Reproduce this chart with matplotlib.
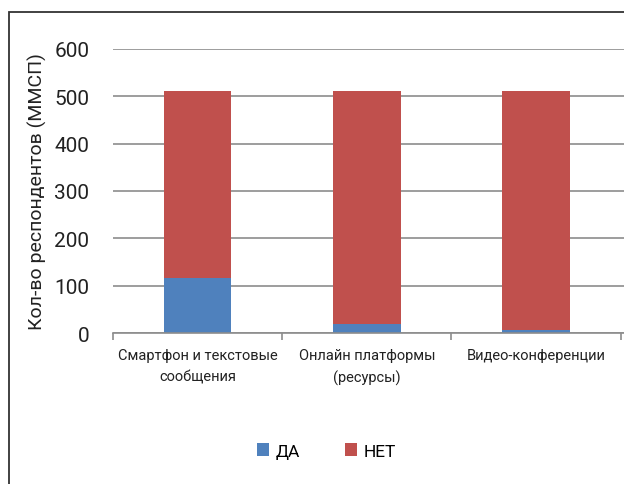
import matplotlib.pyplot as plt
import numpy as np
from matplotlib.patches import Rectangle

categories = ['Смартфон и текстовые\nсообщения', 'Онлайн платформы\n(ресурсы)', 'Видео-конференции']
yes_values = [116, 20, 6]
no_values = [396, 492, 506]
series_names = ['ДА', 'НЕТ']
colors = ['#4F81BD', '#C0504D']
y_label = 'Кол-во респондентов (ММСП)'

plt.rcParams['font.family'] = ['Roboto', 'DejaVu Sans']

fig = plt.figure(figsize=(6.24, 4.85), dpi=100)
W, H = 624, 485
ax = fig.add_axes([113 / W, 1 - 334 / H, (624 - 113) / W, (334 - 50) / H])

x = np.arange(len(categories))
ax.bar(x, yes_values, width=0.4, color=colors[0], label=series_names[0])
ax.bar(x, no_values, width=0.4, bottom=yes_values, color=colors[1], label=series_names[1])

ax.set_xlim(-0.5, len(categories) - 0.5 + 0.02)
ax.set_ylim(0, 600)
ax.set_yticks(range(0, 601, 100))
ax.yaxis.grid(True, color='#8C8C8C', linewidth=1.2)
ax.set_axisbelow(True)
for s in ['top', 'right', 'left']:
    ax.spines[s].set_visible(False)
ax.spines['bottom'].set_color('#8C8C8C')
ax.spines['bottom'].set_linewidth(1.2)
ax.tick_params(axis='y', length=0, labelsize=15, pad=17, colors='#222222')
ax.set_xticks(x)
ax.set_xticklabels(categories, fontsize=10.5, color='#222222', linespacing=1.65)
ax.tick_params(axis='x', length=0, pad=11)
# category separator ticks
ax.set_xticks(np.arange(-0.5, len(categories), 1.0), minor=True)
ax.tick_params(axis='x', which='minor', length=5, color='#8C8C8C', width=1.2)
ax.set_ylabel(y_label, fontsize=14, color='#222222', labelpad=5)

fig.legend(loc='center', bbox_to_anchor=(0.523, 1 - 452 / H), ncol=2, frameon=False,
           fontsize=12.5, handlelength=0.7, handleheight=0.7, handletextpad=0.35, columnspacing=2.6)

fig.patches.append(Rectangle((9 / W, -0.1), 1, 1 - 12.5 / H + 0.1, transform=fig.transFigure,
                             fill=False, edgecolor='#333333', linewidth=1.3))

fig.savefig('out.png', dpi=100)
